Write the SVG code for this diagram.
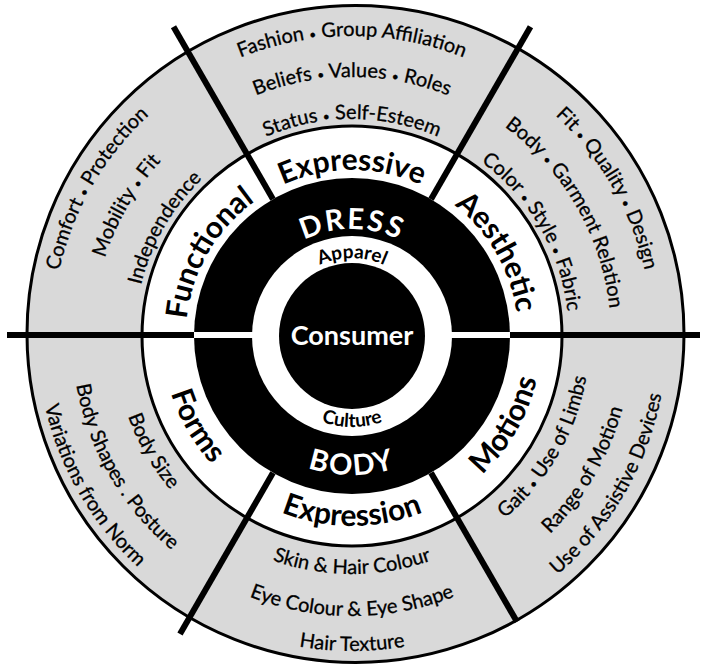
<svg xmlns="http://www.w3.org/2000/svg" width="703" height="666" viewBox="0 0 703 666">
  <style>
    text { font-family: Lato, "Liberation Sans", sans-serif; }
    .band { font-size: 20px; fill: #000; stroke: #000; stroke-width: 0.3px; }
    .dot { font-size: 12px; }
    .ring { font-size: 30px; font-weight: 700; fill: #000; }
    .big { font-size: 29px; font-weight: 700; fill: #fff; letter-spacing: 2px; }
    .core { font-size: 27px; font-weight: 700; fill: #fff; }
    .inner { font-size: 19px; font-weight: 700; fill: #000; }
    .div { stroke: #000; stroke-width: 6; fill: none; }
  </style>
  <defs>
    <!-- upper sectors: clockwise arcs, letters face outward -->
    <path id="t300" d="M 92.2 186 A 300 300 0 0 1 611.8 186"/>
    <path id="t259" d="M 127.7 206.5 A 259 259 0 0 1 576.3 206.5"/>
    <path id="t217" d="M 164.1 227.5 A 217 217 0 0 1 539.9 227.5"/>
    <path id="t166" d="M 208.2 253 A 166 166 0 0 1 495.8 253"/>
    <path id="t107" d="M 259.3 282.5 A 107 107 0 0 1 444.7 282.5"/>
    <path id="t78" d="M 284.5 297 A 78 78 0 0 1 419.5 297"/>
    <path id="l300" d="M 92.2 486 A 300 300 0 0 1 352 36"/>
    <path id="l259" d="M 127.7 465.5 A 259 259 0 0 1 352 77"/>
    <path id="l217" d="M 164.1 444.5 A 217 217 0 0 1 352 119"/>
    <path id="l166" d="M 208.2 419 A 166 166 0 0 1 352 170"/>
    <path id="r300" d="M 352 36 A 300 300 0 0 1 611.8 486"/>
    <path id="r259" d="M 352 77 A 259 259 0 0 1 576.3 465.5"/>
    <path id="r217" d="M 352 119 A 217 217 0 0 1 539.9 444.5"/>
    <path id="r166" d="M 352 170 A 166 166 0 0 1 495.8 419"/>
    <!-- lower sectors: counter-clockwise arcs, letters face inward -->
    <path id="b238" d="M 145.9 455 A 238 238 0 0 0 558.1 455"/>
    <path id="b280" d="M 109.5 476 A 280 280 0 0 0 594.5 476"/>
    <path id="b315" d="M 79.2 493.5 A 315 315 0 0 0 624.8 493.5"/>
    <path id="b190" d="M 187.5 431 A 190 190 0 0 0 516.5 431"/>
    <path id="b139" d="M 231.6 405.5 A 139 139 0 0 0 472.4 405.5"/>
    <path id="b91" d="M 273.2 381.5 A 91 91 0 0 0 430.8 381.5"/>
    <path id="br238" d="M 352 574 A 238 238 0 0 0 558.1 217"/>
    <path id="br280" d="M 352 616 A 280 280 0 0 0 594.5 196"/>
    <path id="br315" d="M 352 651 A 315 315 0 0 0 624.8 178.5"/>
    <path id="br190" d="M 352 526 A 190 190 0 0 0 516.5 241"/>
    <path id="bl238" d="M 145.9 217 A 238 238 0 0 0 352 574"/>
    <path id="bl280" d="M 109.5 196 A 280 280 0 0 0 352 616"/>
    <path id="bl315" d="M 79.2 178.5 A 315 315 0 0 0 352 651"/>
    <path id="bl190" d="M 187.5 241 A 190 190 0 0 0 352 526"/>
  </defs>

  <rect width="703" height="666" fill="#fff"/>

  <!-- concentric rings -->
  <g id="rings">
    <circle cx="355.5" cy="334" r="328.5" fill="#d9d9d9" stroke="#000" stroke-width="3"/>
    <circle cx="352" cy="336" r="210" fill="#fff" stroke="#000" stroke-width="3"/>
    <circle cx="352" cy="336" r="158" fill="#000"/>
    <circle cx="352" cy="336" r="100" fill="#fff"/>
    <circle cx="352" cy="336" r="73" fill="#000"/>
  </g>

  <!-- sector dividers -->
  <g id="connectors">
    <line class="div" x1="273" y1="199.2" x2="173.5" y2="26.8"/>
    <line class="div" x1="431" y1="199.2" x2="530.5" y2="26.8"/>
    <line class="div" x1="431" y1="472.8" x2="517" y2="621.8"/>
    <line class="div" x1="273" y1="472.8" x2="180" y2="633.9"/>
    <line class="div" stroke-width="7" x1="7" y1="335" x2="195" y2="335"/>
    <line class="div" stroke-width="7" x1="509" y1="335" x2="700" y2="335"/>
    <line stroke="#fff" stroke-width="6" x1="194" y1="335" x2="253" y2="335"/>
    <line stroke="#fff" stroke-width="6" x1="451" y1="335" x2="510" y2="335"/>
  </g>

  <g id="core">
    <text class="core" x="352" y="345" text-anchor="middle">Consumer</text>
    <text class="inner" text-anchor="middle"><textPath href="#t78" startOffset="50%">Apparel</textPath></text>
    <text class="inner" text-anchor="middle"><textPath href="#b91" startOffset="50%">Culture</textPath></text>
    <text class="big" text-anchor="middle"><textPath href="#t107" startOffset="50%">DRESS</textPath></text>
    <text class="big" text-anchor="middle"><textPath href="#b139" startOffset="50%">BODY</textPath></text>
  </g>

  <g id="expressive">
    <text class="ring" text-anchor="middle"><textPath href="#t166" startOffset="50%">Expressive</textPath></text>
    <text class="band" text-anchor="middle"><textPath href="#t300" startOffset="50%">Fashion <tspan class="dot">•</tspan> Group Affiliation</textPath></text>
    <text class="band" text-anchor="middle"><textPath href="#t259" startOffset="50%">Beliefs <tspan class="dot">•</tspan> Values <tspan class="dot">•</tspan> Roles</textPath></text>
    <text class="band" text-anchor="middle"><textPath href="#t217" startOffset="50%">Status <tspan class="dot">•</tspan> Self-Esteem</textPath></text>
  </g>

  <g id="functional">
    <text class="ring" text-anchor="middle"><textPath href="#l166" startOffset="50%">Functional</textPath></text>
    <text class="band" text-anchor="middle"><textPath href="#l300" startOffset="50%">Comfort <tspan class="dot">•</tspan> Protection</textPath></text>
    <text class="band" text-anchor="middle"><textPath href="#l259" startOffset="50%">Mobility <tspan class="dot">•</tspan> Fit</textPath></text>
    <text class="band" text-anchor="middle"><textPath href="#l217" startOffset="50%">Independence</textPath></text>
  </g>

  <g id="aesthetic">
    <text class="ring" text-anchor="middle"><textPath href="#r166" startOffset="50%">Aesthetic</textPath></text>
    <text class="band" text-anchor="middle"><textPath href="#r300" startOffset="50%">Fit <tspan class="dot">•</tspan> Quality <tspan class="dot">•</tspan> Design</textPath></text>
    <text class="band" text-anchor="middle"><textPath href="#r259" startOffset="50%">Body <tspan class="dot">•</tspan> Garment Relation</textPath></text>
    <text class="band" text-anchor="middle"><textPath href="#r217" startOffset="50%">Color <tspan class="dot">•</tspan> Style <tspan class="dot">•</tspan> Fabric</textPath></text>
  </g>

  <g id="motions">
    <text class="ring" text-anchor="middle"><textPath href="#br190" startOffset="50%">Motions</textPath></text>
    <text class="band" text-anchor="middle"><textPath href="#br238" startOffset="50%">Gait <tspan class="dot">•</tspan> Use of Limbs</textPath></text>
    <text class="band" text-anchor="middle"><textPath href="#br280" startOffset="50%">Range of Motion</textPath></text>
    <text class="band" text-anchor="middle"><textPath href="#br315" startOffset="50%">Use of Assistive Devices</textPath></text>
  </g>

  <g id="expression">
    <text class="ring" text-anchor="middle"><textPath href="#b190" startOffset="50%">Expression</textPath></text>
    <text class="band" text-anchor="middle"><textPath href="#b238" startOffset="50%">Skin &amp; Hair Colour</textPath></text>
    <text class="band" text-anchor="middle"><textPath href="#b280" startOffset="50%">Eye Colour &amp; Eye Shape</textPath></text>
    <text class="band" text-anchor="middle"><textPath href="#b315" startOffset="50%">Hair Texture</textPath></text>
  </g>

  <g id="forms">
    <text class="ring" text-anchor="middle"><textPath href="#bl190" startOffset="50%">Forms</textPath></text>
    <text class="band" text-anchor="middle"><textPath href="#bl238" startOffset="50%">Body Size</textPath></text>
    <text class="band" text-anchor="middle"><textPath href="#bl280" startOffset="50%">Body Shapes . Posture</textPath></text>
    <text class="band" text-anchor="middle"><textPath href="#bl315" startOffset="50%">Variations from Norm</textPath></text>
  </g>
</svg>
